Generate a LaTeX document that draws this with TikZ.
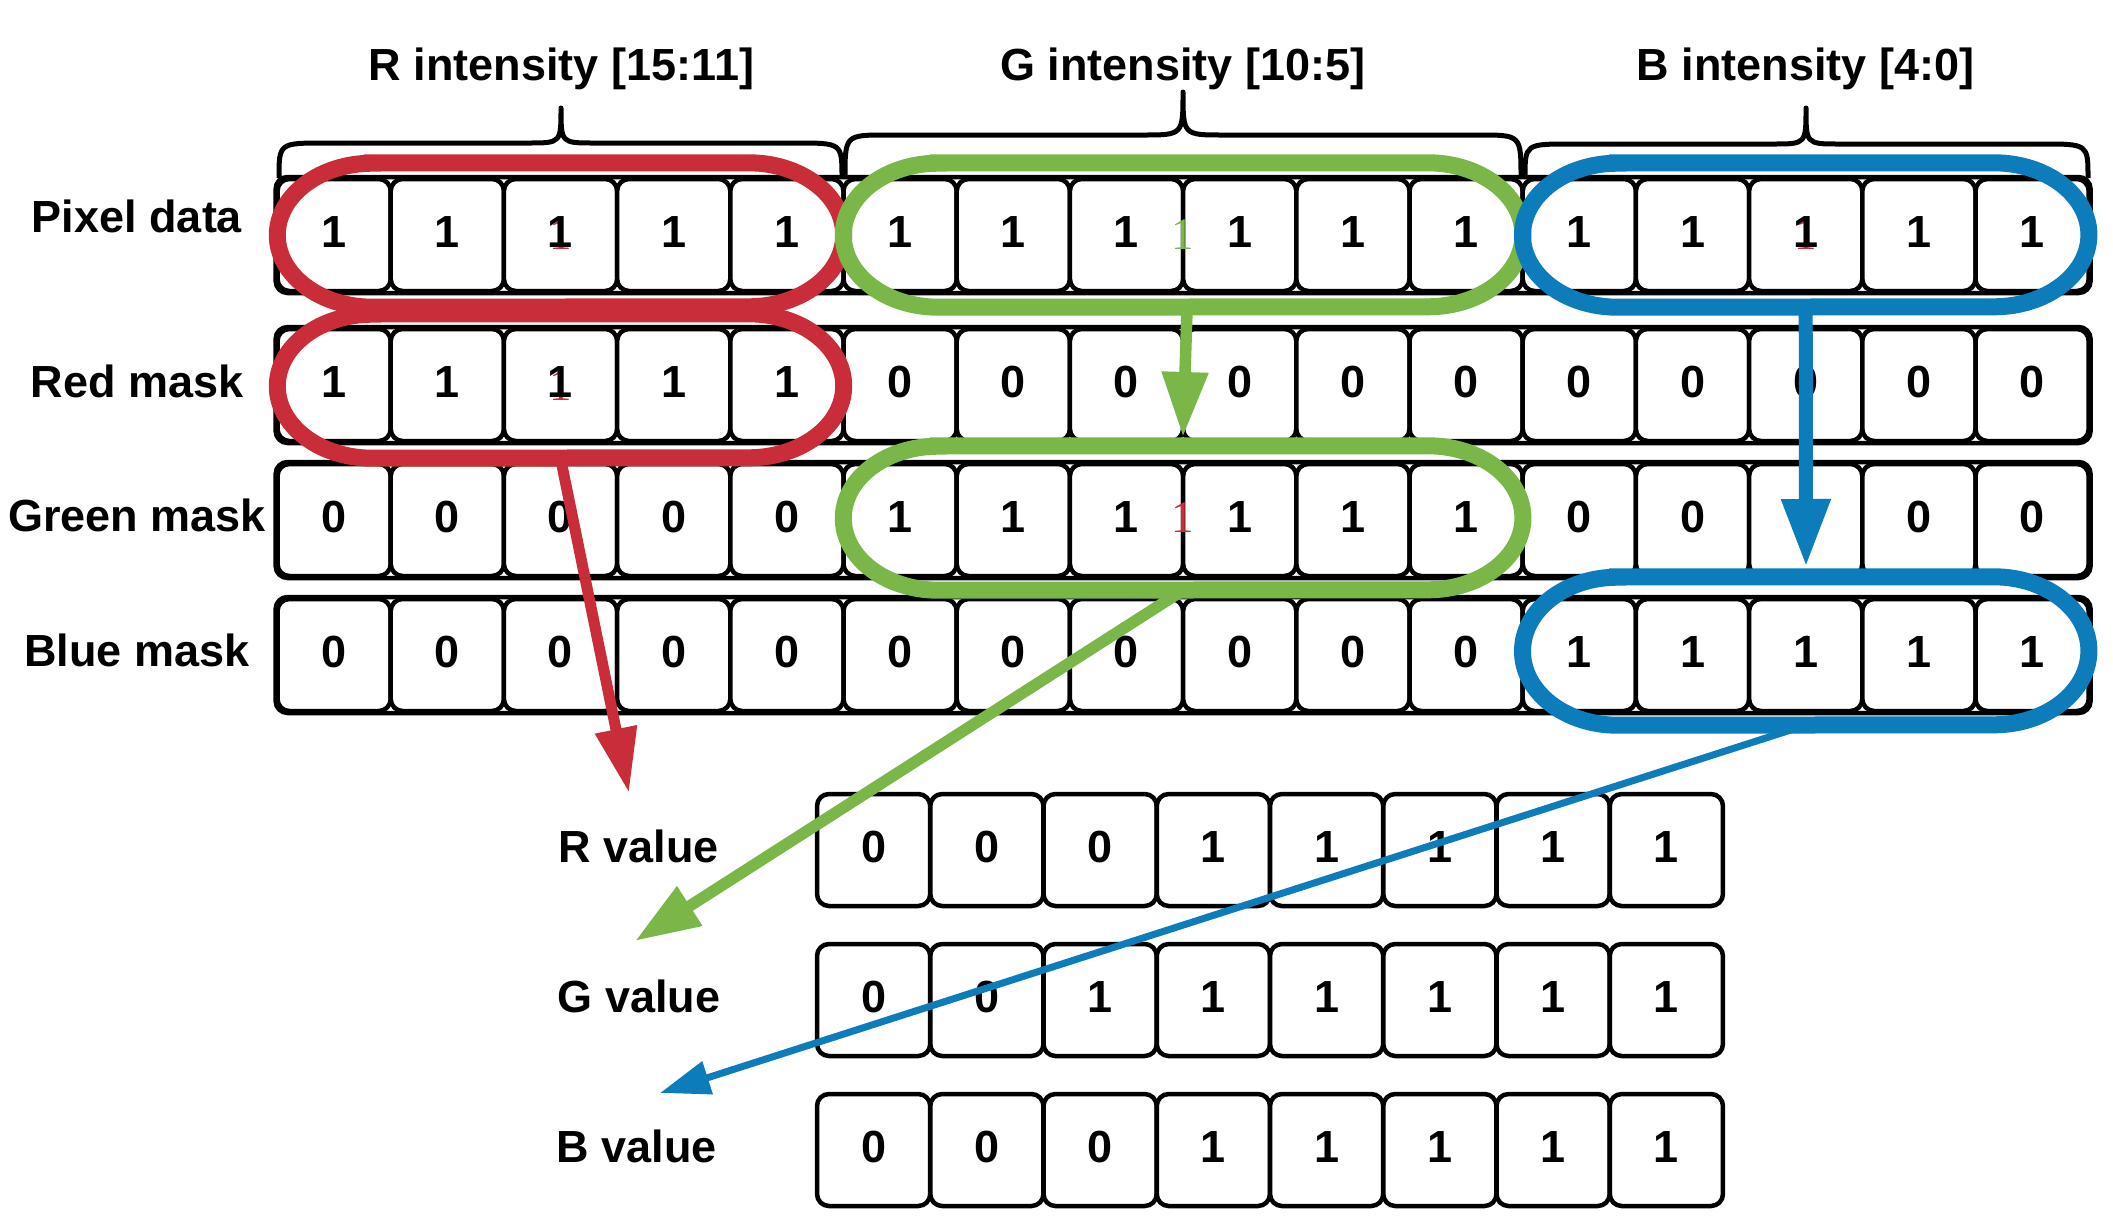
\documentclass[tikz,border=0pt]{standalone}
\usepackage{fontspec}
\setmainfont{Liberation Sans}
\newfontfamily\serifone{Liberation Serif}
\usetikzlibrary{arrows.meta}
\definecolor{lred}{HTML}{C92D39}
\definecolor{lgreen}{HTML}{7AB648}
\definecolor{lblue}{HTML}{0C7CBA}
\tikzset{
  cellbox/.style={draw=black, line width=4.5pt, rounded corners=12pt, fill=white,
    minimum width=113.2pt, minimum height=112pt, inner sep=0pt},
  rowbox/.style={draw=black, line width=4.5pt, rounded corners=12pt, fill=white,
    minimum width=1815pt, minimum height=116pt, inner sep=0pt},
  digit/.style={font=\bfseries\fontsize{45}{54}\selectfont, text height=32pt,
    text depth=8pt, inner sep=0pt},
  lbl/.style={font=\bfseries\fontsize{45}{54}\selectfont, anchor=base, inner sep=0pt},
  brace/.style={draw=black, line width=5pt, line join=round},
  ring/.style={line width=17pt},
  ringlabel/.style={inner sep=0pt, font=\serifone\fontsize{45}{54}\selectfont},
  redarrow/.style={draw=lred, line width=11pt, -{Triangle[length=65pt, width=40pt]}},
  greenarrow/.style={draw=lgreen, line width=11.5pt, -{Triangle[length=65pt, width=44pt]}},
  bluearrow/.style={draw=lblue, line width=14pt, -{Triangle[length=68pt, width=46pt]}},
  bluethin/.style={draw=lblue, line width=7pt, -{Triangle[length=50pt, width=33pt]}},
}
% #1 name, #2 centre, #3 width, #4 height, #5 half height, #6 ring colour, #7 label colour
\newcommand\stadiumring[7]{%
  \node[ringlabel, minimum width=#3, minimum height=#4, text=#7] (#1) at #2 {1};
  \draw[ring, draw=#6] ([xshift=95pt]#1.north west) -- ([xshift=-95pt]#1.north east)
    arc[start angle=90, end angle=-90, x radius=95pt, y radius=#5]
    -- ([xshift=95pt]#1.south west)
    arc[start angle=270, end angle=90, x radius=95pt, y radius=#5] -- cycle;
}
\begin{document}
\begin{tikzpicture}[x=1pt, y=-1pt]
\fill[white] (0,0) rectangle (2113,1221);
\useasboundingbox (0,0) rectangle (2113,1221);

% titles
\node[lbl] (tr) at (561.5,80) {R intensity [15:11]};
\node[lbl] (tg) at (1183,80) {G intensity [10:5]};
\node[lbl] (tb) at (1805.5,80) {B intensity [4:0]};

% braces
\draw[brace] (279,178) .. controls (279,143) .. (325,143) -- (528,143)
  .. controls (561,143) .. (561,108) .. controls (561,143) .. (594,143)
  -- (796,143) .. controls (842,143) .. (842,178);
\draw[brace] (845,178) .. controls (845,135) .. (887,135) -- (1143,135)
  .. controls (1183,135) .. (1183,92) .. controls (1183,135) .. (1223,135)
  -- (1479,135) .. controls (1521,135) .. (1521,178);
\draw[brace] (1525,178) .. controls (1525,144) .. (1571,144) -- (1773,144)
  .. controls (1806,144) .. (1806,108) .. controls (1806,144) .. (1839,144)
  -- (2042,144) .. controls (2088,144) .. (2088,178);

% row labels
\node[lbl] (lp) at (137,232) {Pixel data};
\node[lbl] (lr) at (137,397) {Red mask};
\node[lbl] (lg) at (137,531) {Green mask};
\node[lbl] (lb) at (137,666) {Blue mask};
\node[lbl] (lrv) at (639,862) {R value};
\node[lbl] (lgv) at (639,1012) {G value};
\node[lbl] (lbv) at (637,1162) {B value};

% row frames (top block)
\node[rowbox] (rowp) at (1183.1,235) {};
\node[rowbox] (rowr) at (1183.1,385) {};
\node[rowbox] (rowg) at (1183.1,520) {};
\node[rowbox] (rowb) at (1183.1,655) {};

% cells
\foreach \i in {1,...,16} {
  \node[cellbox] (p\i) at ({334.1+113.2*(\i-1)},235) {};
  \node[cellbox] (r\i) at ({334.1+113.2*(\i-1)},385) {};
  \node[cellbox] (g\i) at ({334.1+113.2*(\i-1)},520) {};
  \node[cellbox] (b\i) at ({334.1+113.2*(\i-1)},655) {};
}
\foreach \i in {1,...,8} {
  \node[cellbox] (vr\i) at ({873.6+113.25*(\i-1)},850) {};
  \node[cellbox] (vg\i) at ({873.6+113.25*(\i-1)},1000) {};
  \node[cellbox] (vb\i) at ({873.6+113.25*(\i-1)},1150) {};
}

% selection rings
\stadiumring{erp}{(560.5,235)}{566pt}{144pt}{72pt}{lred}{lred}
\stadiumring{egp}{(1183.1,235)}{679.2pt}{144pt}{72pt}{lgreen}{lgreen}
\stadiumring{ebp}{(1805.7,235)}{566pt}{144pt}{72pt}{lblue}{lred}
\stadiumring{erm}{(560.5,386)}{566pt}{144pt}{72pt}{lred}{lred}
\stadiumring{egm}{(1183.1,518)}{679.2pt}{144pt}{72pt}{lgreen}{lred}
\stadiumring{ebm}{(1805.7,651)}{566pt}{148pt}{74pt}{lblue}{lred}

% digits
\foreach \v [count=\i] in {1,1,1,1,1,1,1,1,1,1,1,1,1,1,1,1}
  \node[digit] (pt\i) at (p\i) {\v};
\foreach \v [count=\i] in {1,1,1,1,1,0,0,0,0,0,0,0,0,0,0,0}
  \node[digit] (rt\i) at (r\i) {\v};
\foreach \v [count=\i] in {0,0,0,0,0,1,1,1,1,1,1,0,0,0,0,0}
  \node[digit] (gt\i) at (g\i) {\v};
\foreach \v [count=\i] in {0,0,0,0,0,0,0,0,0,0,0,1,1,1,1,1}
  \node[digit] (bt\i) at (b\i) {\v};
\foreach \v [count=\i] in {0,0,0,1,1,1,1,1}
  \node[digit] (vrt\i) at (vr\i) {\v};
\foreach \v [count=\i] in {0,0,1,1,1,1,1,1}
  \node[digit] (vgt\i) at (vg\i) {\v};
\foreach \v [count=\i] in {0,0,0,1,1,1,1,1}
  \node[digit] (vbt\i) at (vb\i) {\v};

% arrow ends
\coordinate (rtip) at (629,793);
\coordinate (g1tip) at (1183,437);
\coordinate (g2tip) at (635,941);
\coordinate (b1tip) at (1806,567);
\coordinate (b2tip) at (660,1093);

% arrows
\draw[redarrow] (erm.south) -- (rtip);
\draw[greenarrow] ([xshift=4pt]egp.south) -- (g1tip);
\draw[greenarrow] (egm.south) -- (g2tip);
\draw[bluearrow] (ebp.south) -- (b1tip);
\draw[bluethin] (ebm.south) -- (b2tip);
\end{tikzpicture}
\end{document}
